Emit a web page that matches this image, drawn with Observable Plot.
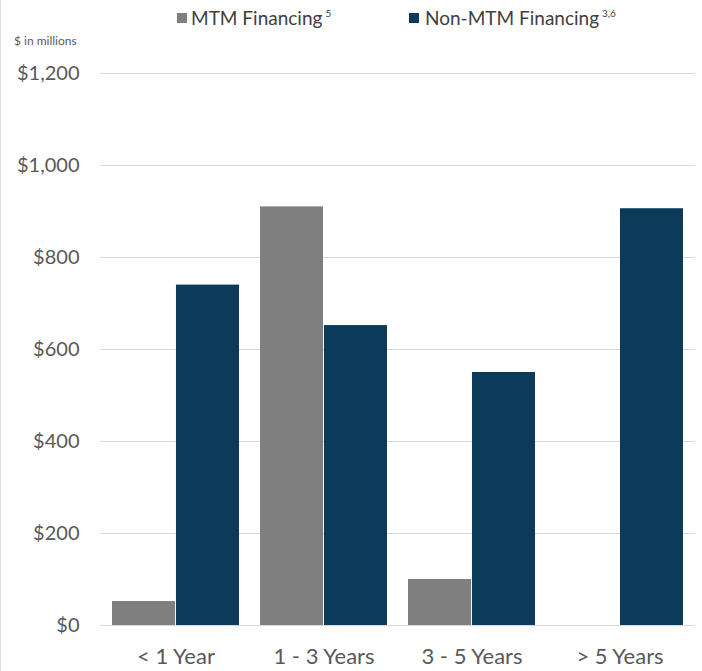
<!DOCTYPE html>
<html>
<head>
<meta charset="utf-8">
<script src="https://cdn.jsdelivr.net/npm/d3@7"></script>
<script src="https://cdn.jsdelivr.net/npm/@observablehq/plot@0.6"></script>
<style>
  html, body { margin: 0; padding: 0; background: #fff; }
  #wrap { position: relative; width: 702px; height: 671px; font-family: Lato, "Open Sans", sans-serif; color: #595959; border-left: 1px solid #e2e2e2; box-sizing: border-box; }
  #legend { position: relative; height: 32px; }
  .sw { position: absolute; top: 13px; width: 10px; height: 10px; }
  .lt { position: absolute; top: 6px; font-size: 19px; color: #404040; white-space: nowrap; }
  .lt sup { font-size: 10px; vertical-align: 8px; margin-left: 3px; }
  #unit { position: absolute; left: 13px; top: 33px; font-size: 12px; color: #595959; }
  #chart { position: absolute; left: -1px; top: 32px; }
  #chart g[aria-label="x-axis tick label"] text { font-size: 22px; }
</style>
</head>
<body>
<div id="wrap">
  <div id="legend"></div>
  <div id="unit">$ in millions</div>
  <div id="chart"></div>
</div>
<script>
const categories = ["< 1 Year", "1 - 3 Years", "3 - 5 Years", "> 5 Years"];
const seriesNames = ["MTM Financing", "Non-MTM Financing"];
const seriesNotes = ["5", "3,6"];
const seriesColors = ["#7f7f7f", "#0b3a5b"];
const mtm = [52, 910, 100, 0];
const nonMtm = [740, 652, 550, 906];
const yTicks = [0, 200, 400, 600, 800, 1000, 1200];

const mtmData = categories.map((c, i) => ({cat: c, series: seriesNames[0], value: mtm[i]}));
const nonData = categories.map((c, i) => ({cat: c, series: seriesNames[1], value: nonMtm[i]}));

// legend
const legend = document.getElementById("legend");
const legendPos = [{sw: 176, tx: 190}, {sw: 408, tx: 424}];
seriesNames.forEach((s, i) => {
  const sw = document.createElement("div");
  sw.className = "sw";
  sw.style.left = legendPos[i].sw + "px";
  sw.style.background = seriesColors[i];
  legend.appendChild(sw);
  const t = document.createElement("div");
  t.className = "lt";
  t.style.left = legendPos[i].tx + "px";
  t.innerHTML = s + "<sup>" + seriesNotes[i] + "</sup>";
  legend.appendChild(t);
});

// layout of the band scale (used to split each band into two bars)
const W = 702, ML = 100, MR = 7, PI = 0.14, PO = 0.07;
const step = (W - ML - MR) / (categories.length - PI + 2 * PO);
const half = step * (1 - PI) / 2;

const chart = Plot.plot({
  width: W,
  height: 639,
  marginLeft: ML,
  marginRight: MR,
  marginTop: 41,
  marginBottom: 46,
  style: {fontFamily: "Lato, 'Open Sans', sans-serif", fontSize: "20px", color: "#595959", background: "transparent"},
  x: {domain: categories, paddingInner: PI, paddingOuter: PO, label: null, tickSize: 0, tickPadding: 23},
  y: {domain: [0, 1200], ticks: yTicks, tickFormat: d => "$" + d3.format(",")(d), tickSize: 0, tickPadding: 21, label: null},
  color: {domain: seriesNames, range: seriesColors},
  marks: [
    Plot.ruleY(yTicks, {stroke: "#d9d9d9", strokeWidth: 1.2}),
    Plot.barY(mtmData, {x: "cat", y: "value", fill: "series", insetRight: half}),
    Plot.barY(nonData, {x: "cat", y: "value", fill: "series", insetLeft: half})
  ]
});
document.getElementById("chart").appendChild(chart);
</script>
</body>
</html>
